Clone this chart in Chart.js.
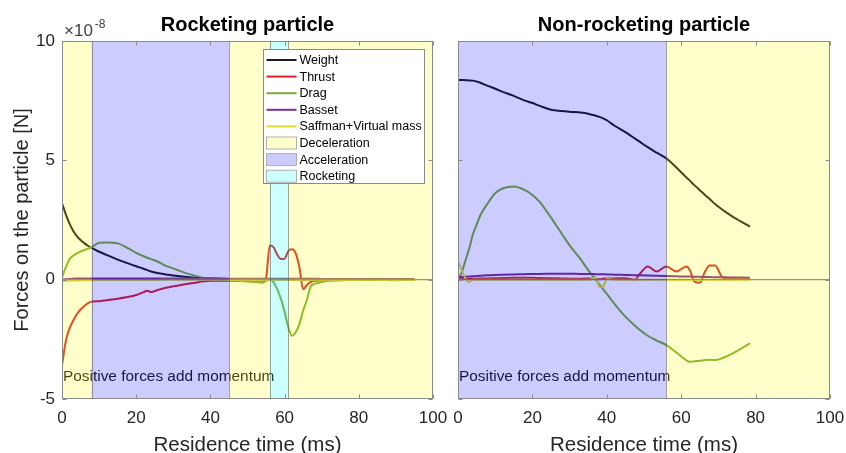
<!DOCTYPE html>
<html>
<head>
<meta charset="utf-8">
<title>Forces on rocketing and non-rocketing particles</title>
<script src="https://cdn.jsdelivr.net/npm/chart.js@4.4.0/dist/chart.umd.min.js"></script>
<style>
  html, body { margin: 0; padding: 0; background: #fff; overflow: hidden; }
  #wrap { position: relative; width: 846px; height: 453px; overflow: hidden; }
  canvas { position: absolute; top: 0; }
  #rocketChart { left: 0; }
  #nonRocketChart { left: 440px; }
</style>
</head>
<body>
<div id="wrap">
  <canvas id="rocketChart" width="460" height="453" style="width:460px;height:453px"></canvas>
  <canvas id="nonRocketChart" width="406" height="453" style="width:406px;height:453px"></canvas>
</div>
<script>
// forces in units of 1e-8 N, time in ms

// rocketing particle
const rocketTime = [0, 1, 2, 3, 4, 5, 6, 7, 8,
  10, 12, 15, 18, 20, 22, 23, 24, 26, 28, 30,
  35, 40, 45, 50, 54, 55,
  56, 57, 58, 59, 60, 61, 62, 63, 64, 65, 66, 67, 68,
  70, 72, 75, 80, 85, 90, 95];
const rocketWeight = [3.2, 2.75, 2.36, 2.05, 1.82, 1.66, 1.53, 1.42, 1.33,
  1.17, 1.04, 0.84, 0.67, 0.56, 0.46, 0.4, 0.34, 0.27, 0.22, 0.17,
  0.09, 0.05, 0.03, 0.02, 0.01, 0.01,
  0.01, 0.01, 0.01, 0.01, 0.01, 0.01, 0.01, 0.01, 0.01, 0.01, 0.01, 0.01, 0.01,
  0.01, 0.01, 0, 0, 0, 0, 0];
const rocketThrust = [-3.6, -2.6, -2.05, -1.72, -1.45, -1.25, -1.1, -0.98, -0.92,
  -0.9, -0.86, -0.8, -0.72, -0.64, -0.52, -0.46, -0.52, -0.42, -0.34, -0.28,
  -0.15, -0.05, -0.05, -0.06, -0.12, 0.06,
  1.43, 1.36, 1.05, 0.87, 0.88, 1.2, 1.27, 1.1, 0.5, -0.4, -0.22, -0.1, -0.05,
  -0.03, 0, 0, 0, 0, 0, 0];
const rocketDrag = [0.1, 0.5, 0.85, 1.0, 1.1, 1.18, 1.24, 1.3, 1.36,
  1.55, 1.56, 1.52, 1.3, 1.12, 0.98, 0.92, 0.86, 0.74, 0.58, 0.47,
  0.2, 0.03, 0.0, -0.08, -0.1, -0.05,
  0, -0.1, -0.4, -0.8, -1.35, -2.0, -2.35, -2.2, -1.85, -1.3, -0.85, -0.3, -0.18,
  -0.1, -0.05, -0.03, 0, 0, -0.02, 0];
const rocketBasset = [0, 0.02, 0.03, 0.04, 0.05, 0.05, 0.05, 0.05, 0.05,
  0.05, 0.05, 0.05, 0.05, 0.05, 0.05, 0.05, 0.05, 0.05, 0.05, 0.05,
  0.05, 0.05, 0.04, 0.04, 0.04, 0.04,
  0.04, 0.04, 0.04, 0.04, 0.04, 0.04, 0.04, 0.04, 0.04, 0.04, 0.04, 0.04, 0.04,
  0.03, 0.03, 0.03, 0.03, 0.03, 0.03, 0.03];
const rocketSaffman = [-0.08, -0.06, -0.05, -0.04, -0.03, -0.03, -0.02, -0.02, -0.02,
  -0.01, -0.01, -0.01, -0.01, -0.01, -0.01, -0.01, -0.01, -0.01, 0, 0,
  0, 0, 0, 0, 0, 0,
  0, 0, 0, 0, 0, 0, 0, 0, 0, 0, 0, 0, 0,
  0, 0, 0, 0, 0, 0, 0];
const rocketBandStart = [0, 8, 45, 56, 61];
const rocketBandEnd = [8, 45, 56, 61, 100];
const rocketBandKind = ['Deceleration', 'Acceleration', 'Deceleration', 'Rocketing', 'Deceleration'];

// non-rocketing particle
const nonRocketTime = [0, 1, 2, 3, 4, 5, 6,
  8, 10, 12, 15, 18, 20, 22, 25, 28, 30,
  33, 35, 36, 37, 38, 39, 40, 42, 45,
  47.5, 49, 51, 53.4, 56, 58.7, 61.4, 62.3, 63.6, 65,
  66.4, 67.7, 69.1, 70.9, 72, 74, 76, 78.5];
const nonRocketWeight = [8.37, 8.37, 8.36, 8.35, 8.34, 8.3, 8.25,
  8.12, 8.0, 7.87, 7.7, 7.5, 7.4, 7.28, 7.12, 7.07, 7.04,
  7.0, 6.95, 6.91, 6.87, 6.82, 6.76, 6.68, 6.46, 6.18,
  5.92, 5.76, 5.55, 5.32, 5.08, 4.7, 4.28, 4.15, 3.95, 3.75,
  3.55, 3.37, 3.17, 2.95, 2.83, 2.62, 2.44, 2.22];
const nonRocketThrust = [0.0, 0.02, 0.03, 0.03, 0.04, 0.04, 0.05,
  0.05, 0.06, 0.07, 0.08, 0.08, 0.08, 0.07, 0.06, 0.05, 0.04,
  0.04, 0.05, 0.04, 0.03, 0.02, 0.04, 0.05, 0.05, 0.06,
  0.0, 0.27, 0.55, 0.34, 0.55, 0.34, 0.55, 0.4, -0.08, -0.13,
  0.34, 0.59, 0.59, 0.13, 0.05, 0.05, 0.04, 0.03];
const nonRocketDrag = [0.0, 0.3, 0.8, 1.3, 1.9, 2.3, 2.7,
  3.2, 3.62, 3.82, 3.9, 3.75, 3.55, 3.25, 2.6, 1.9, 1.44,
  0.85, 0.4, 0.2, 0.0, -0.2, -0.4, -0.6, -1.0, -1.55,
  -1.92, -2.12, -2.35, -2.55, -2.74, -3.05, -3.38, -3.44, -3.42, -3.4,
  -3.37, -3.36, -3.37, -3.3, -3.22, -3.08, -2.9, -2.67];
const nonRocketBasset = [0.1, 0.11, 0.12, 0.13, 0.14, 0.15, 0.16,
  0.18, 0.2, 0.21, 0.22, 0.23, 0.24, 0.24, 0.25, 0.25, 0.25,
  0.24, 0.24, 0.24, 0.23, 0.23, 0.23, 0.22, 0.21, 0.2,
  0.19, 0.18, 0.17, 0.16, 0.15, 0.14, 0.13, 0.13, 0.12, 0.12,
  0.11, 0.11, 0.1, 0.1, 0.1, 0.09, 0.09, 0.08];
const nonRocketSaffman = [0.75, 0.4, 0.05, -0.1, 0.0, 0.0, 0.0,
  0, 0, 0, 0, 0, 0, 0, 0, 0, 0,
  0, 0, 0.02, 0.1, -0.3, -0.3, 0.03, 0, 0,
  0, 0, 0, 0, 0, 0, 0, 0, 0, 0,
  0, 0, 0, 0, 0, 0, 0, 0];
const nonRocketBandStart = [0, 56];
const nonRocketBandEnd = [56, 100];
const nonRocketBandKind = ['Acceleration', 'Deceleration'];

const seriesLabels = ['Weight', 'Thrust', 'Drag', 'Basset', 'Saffman+Virtual mass'];
const seriesColors = ['#1c1c1c', '#d8232a', '#77ac30', '#7e2f8e', '#dcdc30'];
const bandKinds = ['Deceleration', 'Acceleration', 'Rocketing'];
const bandOverlay = { Deceleration: 'rgba(255,255,0,0.2)', Acceleration: 'rgba(0,0,255,0.2)', Rocketing: 'rgba(0,255,255,0.2)' };
const bandSwatch = { Deceleration: '#ffffcc', Acceleration: '#ccccff', Rocketing: '#ccffff' };
const xTicks = [0, 20, 40, 60, 80, 100];
const yTicks = [-5, 0, 5, 10];
const noteText = 'Positive forces add momentum';

const axisGray = '#8a8a8a';
const fontFamily = '"Liberation Sans", Arial, Helvetica, sans-serif';
Chart.defaults.font.family = fontFamily;
Chart.defaults.color = '#262626';

function toPoints(times, values) {
  return times.map((t, i) => ({ x: t, y: values[i] }));
}

function buildDatasets(times, seriesList) {
  const sets = seriesList.map((values, i) => ({
    label: seriesLabels[i],
    data: toPoints(times, values),
    borderColor: seriesColors[i],
    borderWidth: 2,
    pointRadius: 0,
    cubicInterpolationMode: 'monotone',
    order: 6 - i
  }));
  sets.push({
    label: 'zero',
    data: [{ x: 0, y: 0 }, { x: 100, y: 0 }],
    borderColor: '#808080',
    borderWidth: 1.2,
    pointRadius: 0,
    order: 0
  });
  return sets;
}

// shaded regions go over the lines (like transparent patches), then box, ticks, legend
const panelPlugin = {
  id: 'panelDecor',
  afterDatasetsDraw(chart, args, opts) {
    const { ctx, chartArea: a, scales: { x } } = chart;
    ctx.save();
    ctx.font = '15.4px ' + fontFamily;
    ctx.fillStyle = '#1a1a1a';
    ctx.textBaseline = 'middle';
    ctx.textAlign = 'left';
    ctx.fillText(noteText, a.left + 1, a.bottom - 22);

    opts.bandStart.forEach((s, i) => {
      const x0 = x.getPixelForValue(s);
      const x1 = x.getPixelForValue(opts.bandEnd[i]);
      ctx.fillStyle = bandOverlay[opts.bandKind[i]];
      ctx.fillRect(x0, a.top, x1 - x0, a.bottom - a.top);
    });
    ctx.strokeStyle = 'rgba(90,90,90,0.55)';
    ctx.lineWidth = 1;
    opts.bandStart.forEach((s) => {
      if (s <= 0) return;
      const px = Math.round(x.getPixelForValue(s)) + 0.5;
      ctx.beginPath();
      ctx.moveTo(px, a.top);
      ctx.lineTo(px, a.bottom);
      ctx.stroke();
    });
    ctx.restore();
  },
  afterDraw(chart, args, opts) {
    const { ctx, chartArea: a, scales: { x, y } } = chart;
    ctx.save();
    ctx.strokeStyle = axisGray;
    ctx.lineWidth = 1;
    const L = Math.round(a.left) + 0.5, R = Math.round(a.right) - 0.5;
    const T = Math.round(a.top) + 0.5, B = Math.round(a.bottom) - 0.5;
    ctx.strokeRect(L, T, R - L, B - T);
    const tl = 4;
    ctx.beginPath();
    xTicks.forEach((v) => {
      const px = Math.round(x.getPixelForValue(v)) + 0.5;
      ctx.moveTo(px, B); ctx.lineTo(px, B - tl);
      ctx.moveTo(px, T); ctx.lineTo(px, T + tl);
    });
    yTicks.forEach((v) => {
      const py = Math.round(y.getPixelForValue(v)) + 0.5;
      ctx.moveTo(L, py); ctx.lineTo(L + tl, py);
      ctx.moveTo(R, py); ctx.lineTo(R - tl, py);
    });
    ctx.stroke();

    if (opts.showExponent) {
      ctx.fillStyle = '#404040';
      ctx.textBaseline = 'alphabetic';
      ctx.textAlign = 'left';
      ctx.font = '17px ' + fontFamily;
      ctx.fillText('\u00d710', a.left + 2, 36);
      const w = ctx.measureText('\u00d710').width;
      ctx.font = '12px ' + fontFamily;
      ctx.fillText('-8', a.left + 4 + w, 28);
    }

    if (opts.showLegend) {
      const lx = 263.5, ly = 49.5, lw = 161, lh = 134, row = 16.6;
      ctx.fillStyle = '#ffffff';
      ctx.fillRect(lx, ly, lw, lh);
      ctx.strokeStyle = '#8a8a8a';
      ctx.strokeRect(lx, ly, lw, lh);
      ctx.font = '12.5px ' + fontFamily;
      ctx.textBaseline = 'middle';
      ctx.textAlign = 'left';
      const entries = seriesLabels.concat(bandKinds);
      entries.forEach((label, i) => {
        const cy = ly + 10.5 + i * row;
        if (i < seriesLabels.length) {
          ctx.strokeStyle = seriesColors[i];
          ctx.lineWidth = 2;
          ctx.beginPath();
          ctx.moveTo(lx + 3, cy);
          ctx.lineTo(lx + 33, cy);
          ctx.stroke();
        } else {
          ctx.fillStyle = bandSwatch[label];
          ctx.fillRect(lx + 3, cy - 6, 30, 12);
          ctx.strokeStyle = '#b0b0b0';
          ctx.lineWidth = 1;
          ctx.strokeRect(lx + 3, cy - 6, 30, 12);
        }
        ctx.fillStyle = '#000000';
        ctx.fillText(label, lx + 36, cy + 0.5);
      });
    }
    ctx.restore();
  }
};

function makePanel(canvasId, title, times, seriesList, bands, isLeft) {
  return new Chart(document.getElementById(canvasId), {
    type: 'line',
    data: { datasets: buildDatasets(times, seriesList) },
    plugins: [panelPlugin],
    options: {
      responsive: false,
      animation: false,
      devicePixelRatio: 1,
      layout: { padding: { left: 0, right: isLeft ? 27 : 16, top: 0, bottom: 0 } },
      plugins: {
        legend: { display: false },
        tooltip: { enabled: false },
        title: {
          display: true,
          text: title,
          fullSize: false,
          color: '#000000',
          font: { size: 20, weight: 'bold', family: fontFamily, lineHeight: 1.2 },
          padding: { top: 13, bottom: 4 }
        },
        panelDecor: {
          bandStart: bands.start,
          bandEnd: bands.end,
          bandKind: bands.kind,
          showLegend: isLeft,
          showExponent: isLeft
        }
      },
      scales: {
        x: {
          type: 'linear',
          min: 0,
          max: 100,
          afterBuildTicks: (scale) => { scale.ticks = xTicks.map((v) => ({ value: v })); },
          afterFit: (scale) => { scale.height = 54; scale.paddingLeft = 0; scale.paddingRight = 0; },
          grid: { display: false, drawTicks: false },
          border: { display: false },
          ticks: { padding: 9, color: '#262626', font: { size: 17 }, maxRotation: 0 },
          title: {
            display: true,
            text: 'Residence time (ms)',
            color: '#262626',
            font: { size: 20.5, lineHeight: 0.75 },
            padding: { top: 0, bottom: 0 }
          }
        },
        y: {
          type: 'linear',
          min: -5,
          max: 10,
          afterBuildTicks: (scale) => { scale.ticks = yTicks.map((v) => ({ value: v })); },
          afterFit: (scale) => { scale.width = isLeft ? 62 : 18; },
          grid: { display: false, drawTicks: false },
          border: { display: false },
          ticks: { display: isLeft, padding: 7, color: '#262626', font: { size: 17 } },
          title: {
            display: isLeft,
            text: 'Forces on the particle [N]',
            color: '#262626',
            font: { size: 20, lineHeight: 1.2 },
            padding: { top: 10, bottom: 0 }
          }
        }
      }
    }
  });
}

makePanel('rocketChart', 'Rocketing particle', rocketTime,
  [rocketWeight, rocketThrust, rocketDrag, rocketBasset, rocketSaffman],
  { start: rocketBandStart, end: rocketBandEnd, kind: rocketBandKind }, true);

makePanel('nonRocketChart', 'Non-rocketing particle', nonRocketTime,
  [nonRocketWeight, nonRocketThrust, nonRocketDrag, nonRocketBasset, nonRocketSaffman],
  { start: nonRocketBandStart, end: nonRocketBandEnd, kind: nonRocketBandKind }, false);
</script>
</body>
</html>
